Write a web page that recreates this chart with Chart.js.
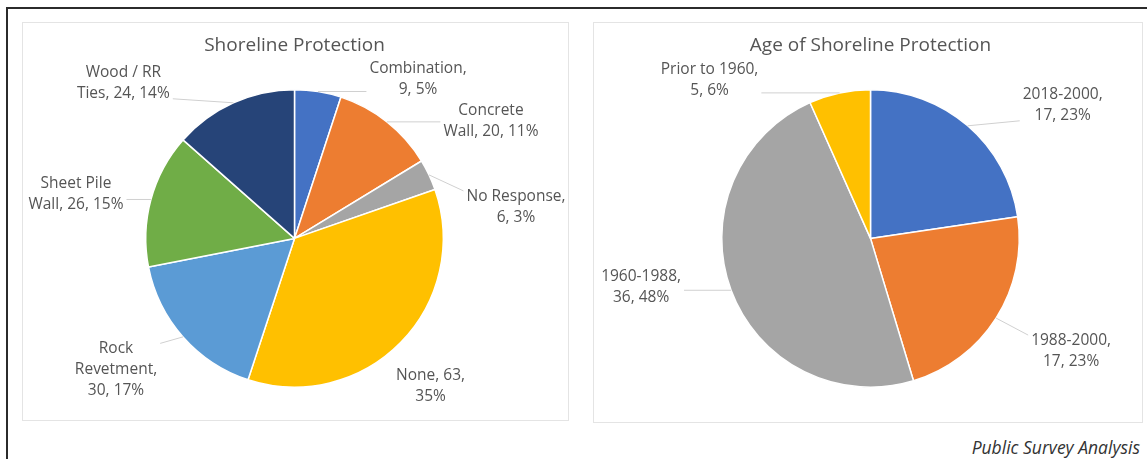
<!DOCTYPE html>
<html>
<head>
<meta charset="utf-8">
<script src="https://cdn.jsdelivr.net/npm/chart.js@4.4.0/dist/chart.umd.min.js"></script>
<style>
  body { margin: 0; width: 1147px; height: 459px; overflow: hidden; position: relative; background: #fff; font-family: 'Open Sans', sans-serif; }
  .moldura { position: absolute; left: 6px; top: 7px; width: 1170px; height: 480px; border-top: 2px solid #2b2b2b; border-left: 2px solid #2b2b2b; }
  .painel { position: absolute; box-sizing: border-box; border: 1px solid #e4e4e4; background: #fff; }
  #painel-tipo { left: 22px; top: 22px; width: 547px; height: 399px; }
  #painel-idade { left: 593px; top: 22px; width: 550px; height: 401px; }
  .fonte { position: absolute; right: 7px; top: 437px; font-style: italic; font-size: 17.5px; line-height: 20px; color: #333; }
</style>
</head>
<body>
<div class="moldura"></div>
<div class="painel" id="painel-tipo"><canvas id="graficoTipo"></canvas></div>
<div class="painel" id="painel-idade"><canvas id="graficoIdade"></canvas></div>
<div class="fonte">Public Survey Analysis</div>

<script>
// tipos de proteção da margem
const tiposProtecao = ['Combination', 'Concrete Wall', 'No Response', 'None', 'Rock Revetment', 'Sheet Pile Wall', 'Wood / RR Ties'];
const qtdTipos = [9, 20, 6, 63, 30, 26, 24];
const pctTipos = [5, 11, 3, 35, 17, 15, 14];
const coresTipos = ['#4472c4', '#ed7d31', '#a5a5a5', '#ffc000', '#5b9bd5', '#70ad47', '#264478'];

// idade da proteção
const faixasIdade = ['2018-2000', '1988-2000', '1960-1988', 'Prior to 1960'];
const qtdIdade = [17, 17, 36, 5];
const pctIdade = [23, 23, 48, 6];
const coresIdade = ['#4472c4', '#ed7d31', '#a5a5a5', '#ffc000'];

const cinzaTexto = '#555555';

// junta "nome, qtd, pct%" e quebra em linhas pelo número de palavras
function montaLinhas(nomes, valores, pcts, quebras) {
  return nomes.map((nome, i) => {
    const palavras = `${nome}, ${valores[i]}, ${pcts[i]}%`.split(' ');
    const linhas = [];
    let k = 0;
    quebras[i].forEach(n => {
      linhas.push(palavras.slice(k, k + n).join(' '));
      k += n;
    });
    return linhas;
  });
}

// rótulos fora da pizza com linha guia
const rotulosPizza = {
  id: 'rotulosPizza',
  afterDatasetsDraw(chart, args, opts) {
    const ctx = chart.ctx;
    const meta = chart.getDatasetMeta(0);
    ctx.save();
    ctx.font = opts.font;
    ctx.textAlign = 'center';
    ctx.textBaseline = 'middle';
    meta.data.forEach((arc, i) => {
      const p = arc.getProps(['x', 'y', 'startAngle', 'endAngle', 'outerRadius'], true);
      const meio = (p.startAngle + p.endAngle) / 2;
      const ax = p.x + Math.cos(meio) * p.outerRadius;
      const ay = p.y + Math.sin(meio) * p.outerRadius;
      const linhas = opts.linhas[i];
      const [dx, dy] = opts.desloc[i];
      const cx = ax + dx, cy = ay + dy;
      const lh = opts.alturaLinha;
      const h = linhas.length * lh;
      const w = Math.max(...linhas.map(t => ctx.measureText(t).width));

      if (opts.guia[i]) {
        const ex = dx > 0 ? cx - w / 2 - 3 : cx + w / 2 + 3;
        const ey = Math.min(Math.max(ay, cy - h / 2 + 5), cy + h / 2 - 5);
        ctx.strokeStyle = '#d0d0d0';
        ctx.lineWidth = 1;
        ctx.beginPath();
        ctx.moveTo(ax, ay);
        ctx.lineTo(ex, ey);
        ctx.stroke();
      }
      ctx.fillStyle = opts.cor;
      linhas.forEach((t, k) => ctx.fillText(t, cx, cy - h / 2 + lh * (k + 0.5)));
    });
    ctx.restore();
  }
};

function criaPizza(idCanvas, titulo, nomes, valores, cores, rotulos, padding) {
  return new Chart(document.getElementById(idCanvas), {
    type: 'pie',
    data: {
      labels: nomes,
      datasets: [{
        data: valores,
        backgroundColor: cores,
        borderColor: '#ffffff',
        borderWidth: 1.5
      }]
    },
    options: {
      responsive: true,
      maintainAspectRatio: false,
      animation: false,
      layout: { padding: padding },
      plugins: {
        legend: { display: false },
        tooltip: { enabled: false },
        title: {
          display: true,
          text: titulo,
          color: cinzaTexto,
          font: { family: "'Open Sans', sans-serif", size: 19, weight: 'normal' },
          padding: { top: 11.5, bottom: 31.5 }
        },
        rotulosPizza: Object.assign({
          font: "15.5px 'Open Sans', sans-serif",
          cor: cinzaTexto,
          alturaLinha: 21
        }, rotulos)
      }
    },
    plugins: [rotulosPizza]
  });
}

Chart.defaults.font.family = "'Open Sans', sans-serif";

criaPizza('graficoTipo', 'Shoreline Protection', tiposProtecao, qtdTipos, coresTipos, {
  linhas: montaLinhas(tiposProtecao, qtdTipos, pctTipos, [[1, 2], [1, 3], [2, 2], [2, 1], [1, 1, 2], [2, 3], [3, 3]]),
  desloc: [[100, -12], [104, -1], [87, 32], [30, 43], [-67, 33], [-75, -5], [-110, -20]],
  guia: [true, true, true, false, true, true, true]
}, { top: 0, left: 122, right: 124, bottom: 32 });

criaPizza('graficoIdade', 'Age of Shoreline Protection', faixasIdade, qtdIdade, coresIdade, {
  linhas: montaLinhas(faixasIdade, qtdIdade, pctIdade, [[1, 2], [1, 2], [1, 2], [3, 2]]),
  desloc: [[95, -21], [75, 33], [-90, -3], [-130, -13]],
  guia: [true, true, true, true]
}, { top: 0, left: 127, right: 122, bottom: 34 });
</script>
</body>
</html>
